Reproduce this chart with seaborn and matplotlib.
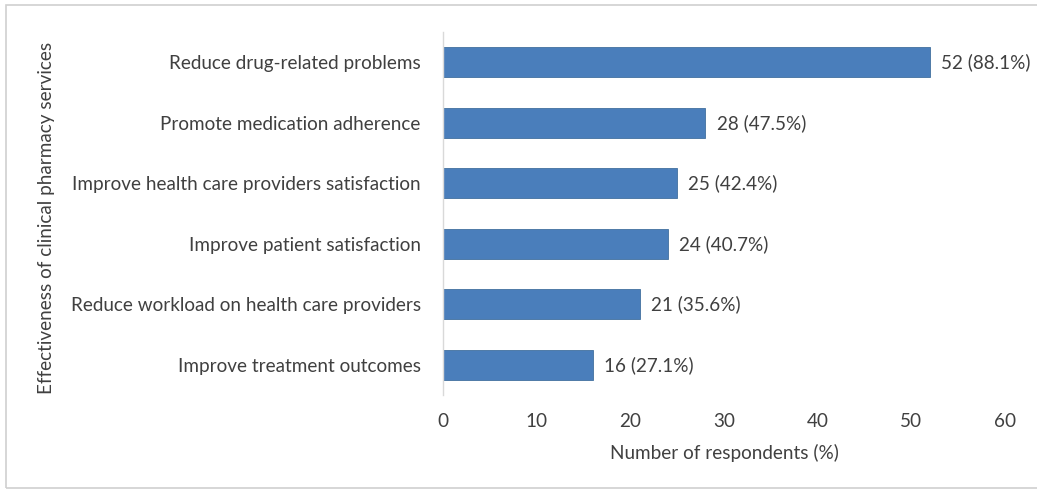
import matplotlib
matplotlib.use("Agg")
import matplotlib.pyplot as plt
import seaborn as sns
import pandas as pd
from matplotlib.patches import Rectangle

categories = [
    "Reduce drug-related problems",
    "Promote medication adherence",
    "Improve health care providers satisfaction",
    "Improve patient satisfaction",
    "Reduce workload on health care providers",
    "Improve treatment outcomes",
]
counts = [52, 28, 25, 24, 21, 16]
percents = [88.1, 47.5, 42.4, 40.7, 35.6, 27.1]
x_ticks = [0, 10, 20, 30, 40, 50, 60]

sns.set_theme(style="white")
plt.rcParams["font.family"] = ["Lato", "DejaVu Sans"]
text_color = "#404040"
fs = 13.6

df = pd.DataFrame({"category": categories, "count": counts})

fig = plt.figure(figsize=(10.37, 4.93), dpi=100)
ax = fig.add_axes([443 / 1037, 1 - 395 / 493, (1005 - 443) / 1037, (395 - 32) / 493])

sns.barplot(data=df, x="count", y="category", orient="h", color="#4A7EBB",
            saturation=1, width=0.5, ax=ax, edgecolor="#41709F", linewidth=0.6)

for i, (c, p) in enumerate(zip(counts, percents)):
    ax.text(c + 1.2, i, f"{c} ({p}%)", va="center", ha="left",
            fontsize=fs, color=text_color)

ax.set_xlim(0, 60)
ax.set_xticks(x_ticks)
ax.set_xticklabels([str(t) for t in x_ticks], fontsize=fs, color=text_color)
ax.tick_params(axis="x", length=0, pad=13)
ax.tick_params(axis="y", length=0, pad=16, labelsize=fs, labelcolor=text_color)
ax.set_xlabel("Number of respondents (%)", fontsize=fs, color=text_color, labelpad=10)
ax.set_ylabel("")
fig.text(47 / 1037, 1 - 218 / 493, "Effectiveness of clinical pharmacy services",
         rotation=90, va="center", ha="center", fontsize=fs, color=text_color)

for s in ["top", "right", "bottom"]:
    ax.spines[s].set_visible(False)
ax.spines["left"].set_color("#D9D9D9")
ax.spines["left"].set_linewidth(1.0)

fig.patches.append(Rectangle((6 / 1037, 1 - 488 / 493), 1.1, (488 - 5) / 493,
                             transform=fig.transFigure, fill=False,
                             edgecolor="#D0D0D0", linewidth=1.2))

fig.savefig("out.png", dpi=100)
